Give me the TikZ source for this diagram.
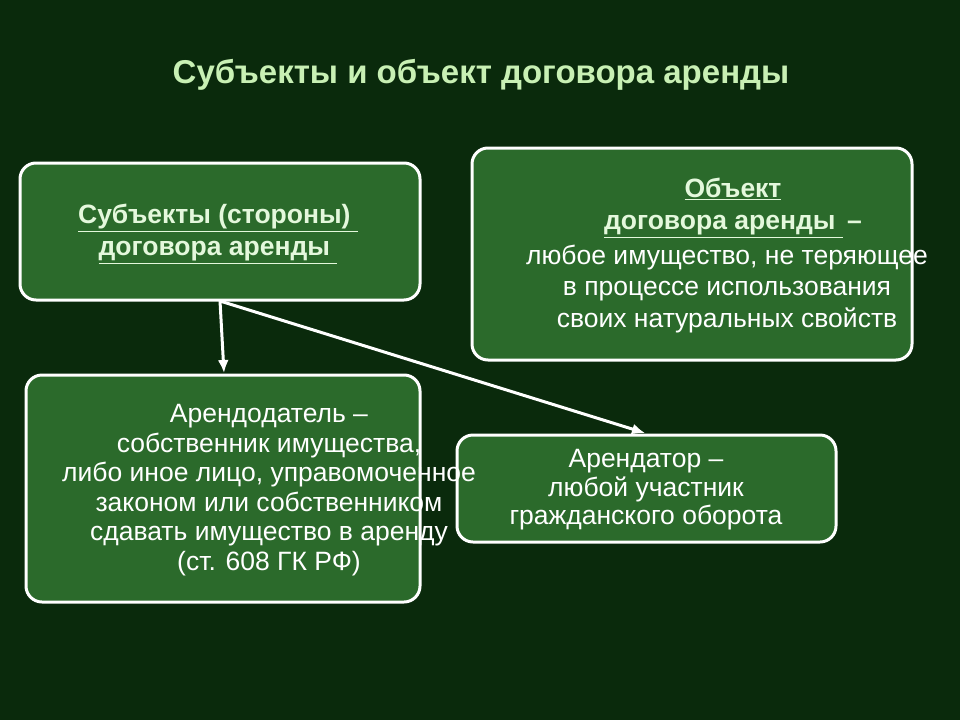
\documentclass[tikz,border=0pt]{standalone}
\usepackage{fontspec}
\usetikzlibrary{arrows.meta}
\setmainfont{Liberation Sans}
\definecolor{bg}{HTML}{0A2A0C}
\definecolor{boxg}{HTML}{2B6A2B}
\definecolor{ttl}{HTML}{C8F0B4}
\definecolor{hd}{HTML}{E4F8DC}
\begin{document}
\begin{tikzpicture}[x=1pt,y=-1pt,
  box/.style={draw=white,line width=3pt,fill=boxg,rounded corners=16pt},
  txt/.style={text=white,font=\fontsize{26.5}{31.5}\selectfont,align=center},
  hdr/.style={text=hd,font=\fontsize{26.5}{32}\selectfont\bfseries,align=center},
  arr/.style={draw=white,line width=3pt,-{Latex[length=13pt,width=11pt]}}]
\useasboundingbox (0,0) rectangle (960,720);
\fill[bg] (0,0) rectangle (960,720);
\node[text=ttl,font=\fontsize{33}{38}\selectfont\bfseries] (title) at (481,75) {Субъекты и объект договора аренды};
\draw[box] (20,163) rectangle (420,300);
\draw[box] (472,148) rectangle (912,360);
\draw[box] (26,375) rectangle (420,602);
\draw[box] (457,435) rectangle (836,542);
\coordinate (src) at (220,301);
\coordinate (t1) at (224,373);
\coordinate (t2) at (645,433);
\node[hdr] (sub) at (218,234) {\underline{Субъекты (стороны)\ }\\\underline{договора аренды\ }};
\node[hdr] (obh) at (733,208) {\underline{Объект}\\\underline{договора аренды }\,–};
\node[txt] (obt) at (727,289) {любое имущество, не теряющее\\в процессе использования\\своих натуральных свойств};
\node[txt,font=\fontsize{26.5}{29.5}\selectfont] (lr) at (269,490) {Арендодатель –\\собственник имущества,\\либо иное лицо, управомоченное\\законом или собственником\\сдавать имущество в аренду\\(ст. 608 ГК РФ)};
\node[txt,font=\fontsize{26.5}{28.5}\selectfont] (le) at (646,490) {Арендатор –\\любой участник\\гражданского оборота};
\draw[arr] (src) -- (t1);
\draw[arr] (src) -- (t2);
\end{tikzpicture}
\end{document}
